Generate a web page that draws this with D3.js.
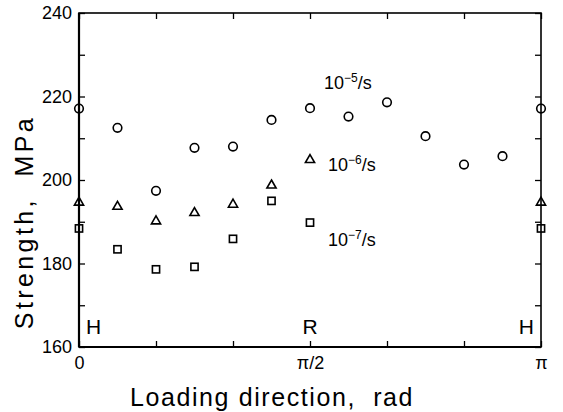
<!DOCTYPE html>
<html>
<head>
<meta charset="utf-8">
<script src="https://cdn.jsdelivr.net/npm/d3@7"></script>
<style>
  body { margin: 0; background: #fff; }
  svg { display: block; font-family: "Liberation Sans", Arial, sans-serif; }
  .title { white-space: pre; }
</style>
</head>
<body>
<div id="chart"></div>
<script>
// loading angle as a fraction of pi
const angleFrac = [0, 1/12, 2/12, 3/12, 4/12, 5/12, 6/12, 7/12, 8/12, 9/12, 10/12, 11/12, 1];

// strength, MPa
const rate5 = [217.1, 212.5, 197.4, 207.7, 208.0, 214.4, 217.2, 215.2, 218.6, 210.5, 203.7, 205.7, 217.1];
const rate6Frac = [0, 1/12, 2/12, 3/12, 4/12, 5/12, 6/12, 1];
const rate6 = [194.8, 193.8, 190.3, 192.3, 194.3, 198.9, 205.0, 194.8];
const rate7Frac = [0, 1/12, 2/12, 3/12, 4/12, 5/12, 6/12, 1];
const rate7 = [188.4, 183.4, 178.6, 179.2, 185.9, 195.0, 189.8, 188.4];

const yTicks = [160, 180, 200, 220, 240];
const yMinor = [170, 190, 210, 230];
const xTickFrac = [0, 1/6, 2/6, 3/6, 4/6, 5/6, 1];
const xTickLabels = { 0: "0", 3: "π/2", 6: "π" };

const W = 563, H = 412;
const margin = { top: 13, right: 22, bottom: 65, left: 79 },
    width = W - margin.left - margin.right,
    height = H - margin.top - margin.bottom;

const svg = d3.select("#chart").append("svg")
    .attr("width", W)
    .attr("height", H);

const g = svg.append("g")
    .attr("transform", `translate(${margin.left},${margin.top})`);

const x = d3.scaleLinear().domain([0, Math.PI]).range([0, width]);
const y = d3.scaleLinear().domain([160, 240]).range([height, 0]);

// frame
g.append("rect")
    .attr("width", width).attr("height", height)
    .attr("fill", "none").attr("stroke", "#000").attr("stroke-width", 1.6);
g.append("line").attr("x1", 0).attr("x2", 0).attr("y1", 0).attr("y2", height)
    .attr("stroke", "#000").attr("stroke-width", 2.2);
g.append("line").attr("x1", 0).attr("x2", width).attr("y1", height).attr("y2", height)
    .attr("stroke", "#000").attr("stroke-width", 2.2);

// axes, ticks pointing inward
const tickLen = 6;
const allY = yTicks.concat(yMinor);
const yLeft = d3.axisLeft(y).tickValues(allY).tickSize(-tickLen)
    .tickFormat(d => yTicks.includes(d) ? d : "");
g.append("g").call(yLeft)
    .call(a => a.select(".domain").remove())
    .call(a => a.selectAll("line").attr("stroke-width", 1.3))
    .call(a => a.selectAll("text").attr("x", -7).attr("font-size", 18)
        .attr("font-family", "Liberation Sans, Arial, sans-serif").attr("fill", "#000"));

g.append("g").attr("transform", `translate(${width},0)`)
    .call(d3.axisRight(y).tickValues(allY).tickSize(-tickLen).tickFormat(""))
    .call(a => a.select(".domain").remove())
    .call(a => a.selectAll("line").attr("stroke-width", 1.3));

const xVals = xTickFrac.map(f => f * Math.PI);
g.append("g").attr("transform", `translate(0,${height})`)
    .call(d3.axisBottom(x).tickValues(xVals).tickSize(-tickLen)
        .tickFormat((d, i) => xTickLabels[i] || ""))
    .call(a => a.select(".domain").remove())
    .call(a => a.selectAll("line").attr("stroke-width", 1.3))
    .call(a => a.selectAll("text").attr("y", 9).attr("font-size", 18)
        .attr("font-family", "Liberation Sans, Arial, sans-serif").attr("fill", "#000"));

g.append("g")
    .call(d3.axisTop(x).tickValues(xVals).tickSize(-tickLen).tickFormat(""))
    .call(a => a.select(".domain").remove())
    .call(a => a.selectAll("line").attr("stroke-width", 1.3));

// markers
const mk = { fill: "none", stroke: "#000", sw: 1.6 };

g.selectAll(".c5").data(rate5).join("circle")
    .attr("cx", (d, i) => x(angleFrac[i] * Math.PI))
    .attr("cy", d => y(d))
    .attr("r", 4.3)
    .attr("fill", mk.fill).attr("stroke", mk.stroke).attr("stroke-width", mk.sw);

g.selectAll(".t6").data(rate6).join("path")
    .attr("transform", (d, i) => `translate(${x(rate6Frac[i] * Math.PI)},${y(d)})`)
    .attr("d", "M0,-4.6L4.6,3.4L-4.6,3.4Z")
    .attr("fill", mk.fill).attr("stroke", mk.stroke).attr("stroke-width", mk.sw);

g.selectAll(".s7").data(rate7).join("rect")
    .attr("x", (d, i) => x(rate7Frac[i] * Math.PI) - 3.6)
    .attr("y", d => y(d) - 3.6)
    .attr("width", 7.2).attr("height", 7.2)
    .attr("fill", mk.fill).attr("stroke", mk.stroke).attr("stroke-width", mk.sw);

// rate labels
function rateLabel(px, py, exp) {
    const t = svg.append("text").attr("x", px).attr("y", py)
        .attr("font-size", 18).attr("fill", "#000");
    t.append("tspan").text("10");
    t.append("tspan").attr("dy", -7).attr("font-size", 12).text("−" + exp);
    t.append("tspan").attr("dy", 7).text("/s");
}
rateLabel(324, 89, "5");
rateLabel(328, 171, "6");
rateLabel(328, 246, "7");

// orientation letters
const letters = [["H", 0], ["R", 0.5], ["H", 1]];
letters.forEach(([s, f], i) => {
    const px = margin.left + x(f * Math.PI);
    svg.append("text")
        .attr("x", i === 0 ? px + 7 : i === 2 ? px - 7 : px)
        .attr("y", 334)
        .attr("text-anchor", i === 0 ? "start" : i === 2 ? "end" : "middle")
        .attr("font-size", 21).attr("fill", "#000").text(s);
});

// axis titles
svg.append("text")
    .attr("class", "title")
    .attr("transform", "translate(33,222) rotate(-90)")
    .attr("text-anchor", "middle")
    .attr("font-size", 25).attr("letter-spacing", 3.4)
    .attr("fill", "#000")
    .text("Strength,  MPa");

svg.append("text")
    .attr("class", "title")
    .attr("x", 272).attr("y", 406)
    .attr("text-anchor", "middle")
    .attr("font-size", 25).attr("letter-spacing", 1.6)
    .attr("fill", "#000")
    .text("Loading direction,  rad");
</script>
</body>
</html>
